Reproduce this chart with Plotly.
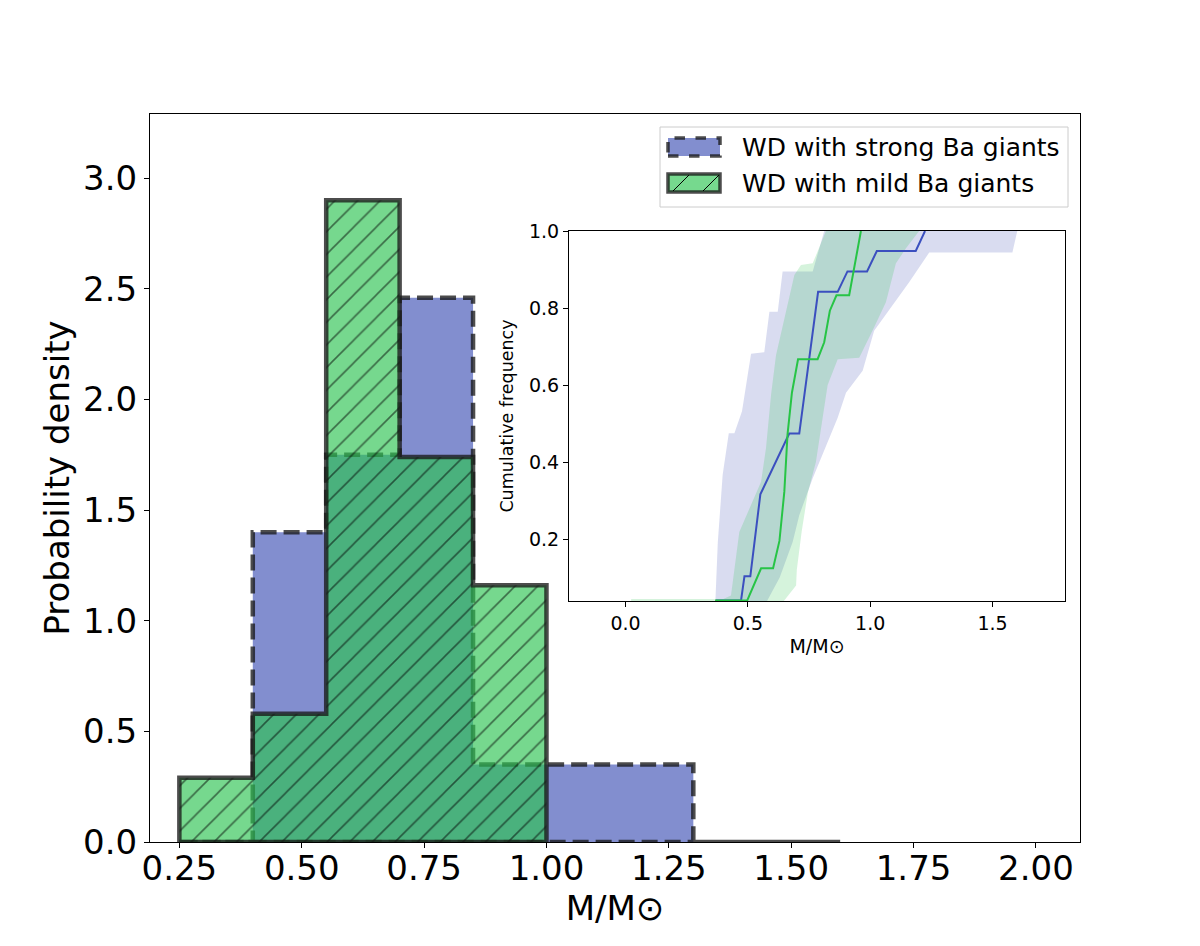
import plotly.graph_objects as go

# histogram of WD masses (probability density per bin)
strong_edges = [0.25, 0.40, 0.55, 0.70, 0.85, 1.00, 1.30, 1.60]
strong_density = [0.0, 1.40, 1.75, 2.46, 0.35, 0.35, 0.0]
mild_edges = [0.25, 0.40, 0.55, 0.70, 0.85, 1.00]
mild_density = [0.29, 0.58, 2.90, 1.74, 1.16]

# inset: cumulative distributions
strong_cdf_x = [0.37, 0.472, 0.486, 0.510, 0.551, 0.669, 0.710, 0.787, 0.867, 0.907,
                0.987, 1.027, 1.186, 1.224]
strong_cdf_y = [0.040, 0.040, 0.103, 0.103, 0.316, 0.474, 0.474, 0.842, 0.842, 0.895,
                0.895, 0.948, 0.948, 1.0]
mild_cdf_x = [0.366, 0.497, 0.554, 0.603, 0.629, 0.649, 0.662, 0.680, 0.705, 0.785,
              0.812, 0.835, 0.862, 0.914, 0.962]
mild_cdf_y = [0.040, 0.040, 0.124, 0.124, 0.195, 0.323, 0.471, 0.580, 0.667, 0.667,
              0.711, 0.793, 0.833, 0.833, 1.0]

# uncertainty bands: lower edge (bottom -> top) and upper edge (top -> bottom)
strong_lo_x = [0.367, 0.377, 0.397, 0.422, 0.445, 0.476, 0.513, 0.567, 0.588, 0.622,
               0.642, 0.765, 0.812]
strong_lo_y = [0.035, 0.19, 0.367, 0.475, 0.475, 0.532, 0.681, 0.685, 0.79, 0.79,
               0.895, 0.895, 1.0]
strong_hi_x = [1.601, 1.581, 1.241, 1.159, 1.016, 0.969, 0.901, 0.867, 0.765, 0.710,
               0.683, 0.630, 0.575]
strong_hi_y = [1.0, 0.944, 0.944, 0.867, 0.741, 0.637, 0.58, 0.515, 0.358, 0.262,
               0.192, 0.10, 0.035]
mild_lo_x = [0.023, 0.023, 0.40, 0.424, 0.431, 0.465, 0.506, 0.554, 0.574, 0.581,
             0.595, 0.615, 0.669, 0.690, 0.717, 0.765, 0.785, 0.819]
mild_lo_y = [0.0, 0.044, 0.044, 0.05, 0.053, 0.218, 0.279, 0.349, 0.436, 0.485,
             0.576, 0.677, 0.833, 0.886, 0.912, 0.916, 0.947, 1.0]
mild_hi_x = [1.20, 1.146, 1.105, 1.064, 1.016, 0.955, 0.867, 0.826, 0.778, 0.745,
             0.720, 0.700, 0.697, 0.642, 0.642]
mild_hi_y = [1.0, 0.955, 0.916, 0.815, 0.75, 0.671, 0.667, 0.60, 0.40, 0.32,
             0.22, 0.12, 0.079, 0.035, 0.0]

BLUE = "63,81,181"
GREEN = "45,196,82"
EDGE = "rgba(25,25,25,0.78)"
FONT = "DejaVu Sans"
W, H = 1200, 946
OFF = 8  # page body margin in the browser


def px(x):
    return (x - OFF) / W


def py(y):
    return 1 - (y - OFF) / H


def step_outline(edges, heights):
    # closed outline of a stepfilled histogram, baseline included
    xs, ys = [edges[0]], [0]
    for i, h in enumerate(heights):
        xs += [edges[i], edges[i + 1]]
        ys += [h, h]
    xs += [edges[-1], edges[0]]
    ys += [0, 0]
    return xs, ys


fig = go.Figure()

sx, sy = step_outline(strong_edges, strong_density)
fig.add_trace(go.Scatter(
    x=sx, y=sy, mode="lines", fill="toself",
    fillcolor=f"rgba({BLUE},0.65)",
    line=dict(color=EDGE, width=4.5, dash="16px,7px"),
    name="WD with strong Ba giants", hoverinfo="skip"))

mx, my = step_outline(mild_edges, mild_density)
fig.add_trace(go.Scatter(
    x=mx, y=my, mode="lines", fill="toself",
    fillcolor=f"rgba({GREEN},0.65)",
    fillpattern=dict(shape="/", size=16, solidity=0.1,
                     fgcolor="black", bgcolor=f"rgba({GREEN},0.65)"),
    line=dict(color=EDGE, width=4.5),
    name="WD with mild Ba giants", hoverinfo="skip"))

# inset
fig.add_trace(go.Scatter(
    x=strong_lo_x + strong_hi_x, y=strong_lo_y + strong_hi_y,
    mode="lines", fill="toself", fillcolor=f"rgba({BLUE},0.2)",
    line=dict(width=0), xaxis="x2", yaxis="y2", hoverinfo="skip"))
fig.add_trace(go.Scatter(
    x=mild_lo_x + mild_hi_x, y=mild_lo_y + mild_hi_y,
    mode="lines", fill="toself", fillcolor=f"rgba({GREEN},0.2)",
    line=dict(width=0), xaxis="x2", yaxis="y2", hoverinfo="skip"))
fig.add_trace(go.Scatter(
    x=strong_cdf_x, y=strong_cdf_y, mode="lines",
    line=dict(color="#3b4fbf", width=2), xaxis="x2", yaxis="y2"))
fig.add_trace(go.Scatter(
    x=mild_cdf_x, y=mild_cdf_y, mode="lines",
    line=dict(color="#27c446", width=2), xaxis="x2", yaxis="y2"))

axis_common = dict(showline=True, mirror=True, linecolor="black", linewidth=1,
                   ticks="outside", tickcolor="black", showgrid=False,
                   zeroline=False, automargin=False)

fig.update_layout(
    width=W, height=H,
    margin=dict(l=0, r=0, t=0, b=0),
    paper_bgcolor="white", plot_bgcolor="white",
    showlegend=False,
    font=dict(family=FONT, color="black"),
    xaxis=dict(axis_common, domain=[px(150), px(1080)], range=[0.19, 2.09],
               tickvals=[0.25, 0.5, 0.75, 1.0, 1.25, 1.5, 1.75, 2.0],
               tickformat=".2f", ticklen=5, tickfont=dict(size=34),
               ticklabelstandoff=-9,
               title=dict(text="M/M⊙", font=dict(size=34), standoff=0)),
    yaxis=dict(axis_common, domain=[py(842), py(114)], range=[0, 3.29],
               tickvals=[0, 0.5, 1.0, 1.5, 2.0, 2.5, 3.0],
               tickformat=".1f", ticklen=5, tickfont=dict(size=34),
               title=dict(text="Probability density", font=dict(size=34), standoff=3)),
    xaxis2=dict(axis_common, domain=[px(569), px(1065)], range=[-0.231, 1.796],
                anchor="y2", tickvals=[0, 0.5, 1.0, 1.5], tickformat=".1f",
                ticklen=5, tickfont=dict(size=19),
                title=dict(text="M/M⊙", font=dict(size=19), standoff=6)),
    yaxis2=dict(axis_common, domain=[py(601), py(231)], range=[0.039, 1.0],
                anchor="x2", tickvals=[0.2, 0.4, 0.6, 0.8, 1.0], tickformat=".1f",
                ticklen=5, tickfont=dict(size=19),
                title=dict(text="Cumulative frequency", font=dict(size=17.5), standoff=10)),
)

shapes = [
    # legend frame
    dict(type="rect", xref="paper", yref="paper",
         x0=px(660), x1=px(1068), y0=py(207), y1=py(127),
         line=dict(color="#cccccc", width=1), fillcolor="rgba(255,255,255,0.8)"),
    # strong handle
    dict(type="rect", xref="paper", yref="paper",
         x0=px(668), x1=px(720), y0=py(156), y1=py(138),
         line=dict(color=EDGE, width=3.5, dash="dash"),
         fillcolor=f"rgba({BLUE},0.65)"),
    # mild handle
    dict(type="rect", xref="paper", yref="paper",
         x0=px(668), x1=px(720), y0=py(192), y1=py(174),
         line=dict(color=EDGE, width=3.5), fillcolor=f"rgba({GREEN},0.65)"),
    dict(type="line", xref="paper", yref="paper",
         x0=px(673), x1=px(689), y0=py(191), y1=py(175),
         line=dict(color="black", width=1)),
    dict(type="line", xref="paper", yref="paper",
         x0=px(703), x1=px(719), y0=py(191), y1=py(175),
         line=dict(color="black", width=1)),
]
fig.update_layout(shapes=shapes)

for label, ycen in [("WD with strong Ba giants", 147), ("WD with mild Ba giants", 183)]:
    fig.add_annotation(x=px(740), y=py(ycen), xref="paper", yref="paper",
                       text=label, showarrow=False, xanchor="left", yanchor="middle",
                       font=dict(size=25, family=FONT, color="black"))

fig.write_html("out.html")
